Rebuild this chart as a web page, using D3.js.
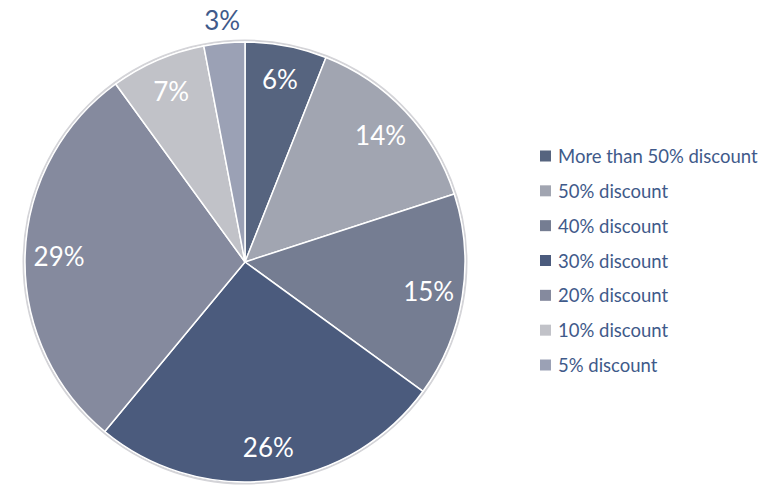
<!DOCTYPE html>
<html><head><meta charset="utf-8">
<script src="https://cdn.jsdelivr.net/npm/d3@7"></script>
<style>body{margin:0;background:#fff;}svg{display:block;}</style>
</head><body>
<svg id="c" width="781" height="486"></svg>
<script>
const categories = ["More than 50% discount","50% discount","40% discount","30% discount","20% discount","10% discount","5% discount"];
const values = [6,14,15,26,29,7,3];
const colors = ["#56647F","#A1A5B1","#757D92","#4B5B7D","#858A9E","#C1C2C8","#9BA1B5"];
const labels = ["6%","14%","15%","26%","29%","7%","3%"];

const svg = d3.select("#c");
const cx = 245, cy = 262, R = 220;
const font = "Lato, 'Open Sans', sans-serif";
const data = categories.map((c,i)=>({c, v:values[i], col:colors[i], lab:labels[i]}));
const pie = d3.pie().value(d=>d.v).sort(null);
const arcs = pie(data);
const arc = d3.arc().innerRadius(0).outerRadius(R);
const labArc = d3.arc().innerRadius(186).outerRadius(186);
const outArc = d3.arc().innerRadius(243).outerRadius(243);

const g = svg.append("g").attr("transform",`translate(${cx},${cy})`);
g.append("circle").attr("r",R+1.5).attr("fill","none").attr("stroke","#d4d4d8").attr("stroke-width",2);
g.selectAll("path.s").data(arcs).join("path").attr("class","s")
  .attr("d",arc).attr("fill",d=>d.data.col).attr("stroke","#fff").attr("stroke-width",1.5).attr("stroke-linejoin","round");

g.selectAll("text.l").data(arcs).join("text").attr("class","l")
  .attr("transform",(d,i)=>{const p=(d.data.v<5?outArc:labArc).centroid(d);return `translate(${p[0]},${p[1]})`;})
  .attr("text-anchor","middle").attr("dominant-baseline","central")
  .attr("font-family",font).attr("font-size",26)
  .attr("fill",d=>d.data.v<5?"#3F5A8A":"#fff")
  .text(d=>d.data.lab);

const lg = svg.append("g");
const ly = d3.scalePoint().domain(categories).range([156,365]);
const items = lg.selectAll("g").data(data).join("g").attr("transform",d=>`translate(540,${ly(d.c)})`);
items.append("rect").attr("x",0).attr("y",-5.5).attr("width",11).attr("height",11).attr("fill",d=>d.col);
items.append("text").attr("x",18).attr("y",0).attr("dominant-baseline","central")
  .attr("font-family",font).attr("font-size",18.5).attr("fill","#3F5A8A").text(d=>d.c);
</script>
</body></html>
